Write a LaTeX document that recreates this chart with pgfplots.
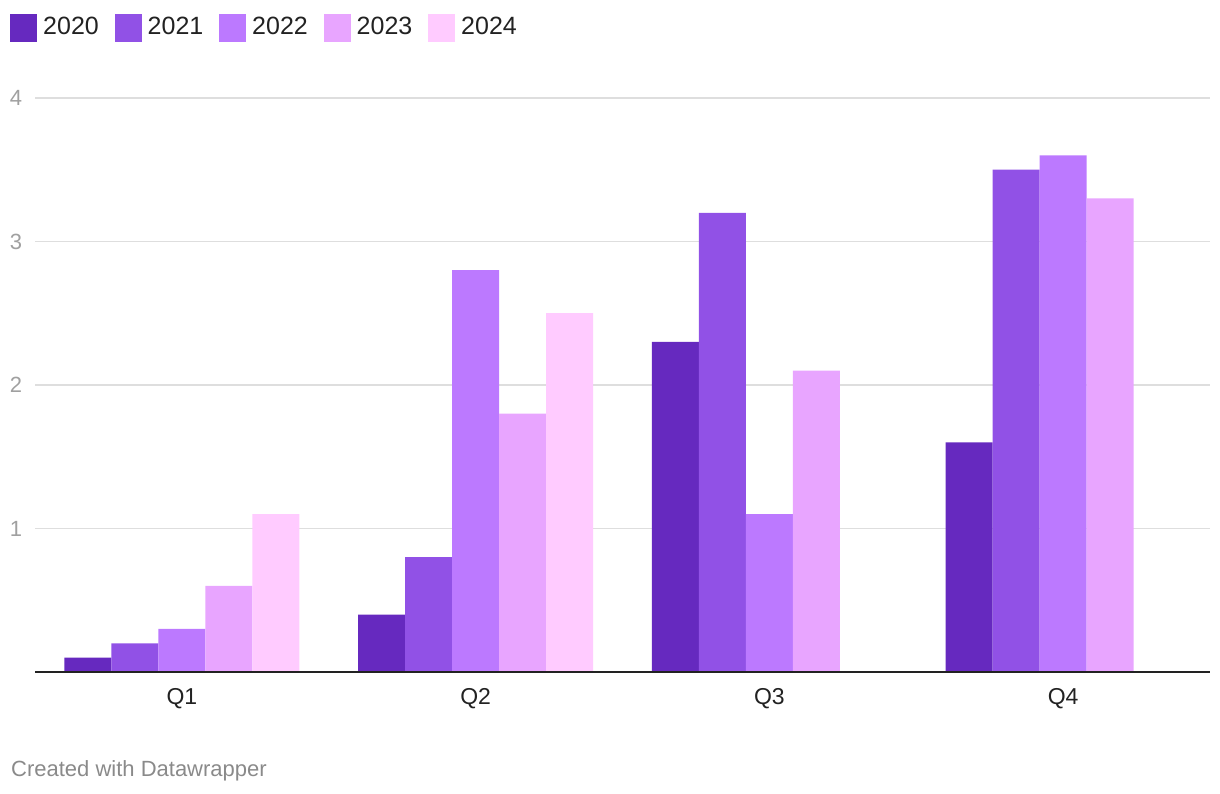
\documentclass[border=0pt]{standalone}
\usepackage{fontspec}
\setmainfont{Liberation Sans}
\usepackage{pgfplots}
\pgfplotsset{compat=1.18}
\definecolor{c20}{HTML}{6629BF}
\definecolor{c21}{HTML}{9151E6}
\definecolor{c22}{HTML}{BC79FF}
\definecolor{c23}{HTML}{E8A5FF}
\definecolor{c24}{HTML}{FFCBFF}
\definecolor{gridc}{HTML}{DEDEDE}
\definecolor{tickc}{HTML}{A0A0A0}
\definecolor{footc}{HTML}{8A8A8A}
\definecolor{txt}{HTML}{222222}
\begin{document}
\begin{tikzpicture}[x=1pt,y=1pt]
\useasboundingbox (0,0) rectangle (1220,794);
\begin{axis}[
  at={(35pt,122pt)}, anchor=south west,
  scale only axis, width=1175pt, height=574pt,
  xmin=-0.5, xmax=3.5, ymin=0, ymax=4,
  axis line style={draw=none},
  tick style={draw=none}, major tick length=0pt,
  ytick={1,2,3,4},
  xtick={0,1,2,3}, xticklabels={Q1,Q2,Q3,Q4},
  ymajorgrids, grid style={color=gridc, line width=1.5pt},
  /pgf/number format/assume math mode=true,
  yticklabel style={font=\fontsize{22}{26}\selectfont, text=tickc, anchor=center, inner sep=0pt, xshift=-19pt},
  xticklabel style={font=\fontsize{23}{27}\selectfont, text=txt, anchor=center, inner sep=0pt, yshift=-26.5pt},
  ybar=0pt, bar width=47pt,
  clip=false,
]
\addplot[fill=c20, draw=none] coordinates {(0,0.1) (1,0.4) (2,2.3) (3,1.6)};
\addplot[fill=c21, draw=none] coordinates {(0,0.2) (1,0.8) (2,3.2) (3,3.5)};
\addplot[fill=c22, draw=none] coordinates {(0,0.3) (1,2.8) (2,1.1) (3,3.6)};
\addplot[fill=c23, draw=none] coordinates {(0,0.6) (1,1.8) (2,2.1) (3,3.3)};
\addplot[fill=c24, draw=none] coordinates {(0,1.1) (1,2.5)};
\draw[txt, line width=2pt] (axis cs:-0.5,0) -- (axis cs:3.5,0);
\end{axis}
% legend
\foreach \c/\lab/\xx in {c20/2020/10, c21/2021/114.5, c22/2022/219, c23/2023/323.5, c24/2024/428}{
  \fill[\c] (\xx,752) rectangle ++(27,28);
  \node[anchor=base west, inner sep=0pt, text=txt, font=\fontsize{25}{29}\selectfont] at (\xx+33,759) {\lab};
}
\node[anchor=base west, inner sep=0pt, text=footc, font=\fontsize{22}{26}\selectfont] at (11,17) {Created with Datawrapper};
\end{tikzpicture}
\end{document}
